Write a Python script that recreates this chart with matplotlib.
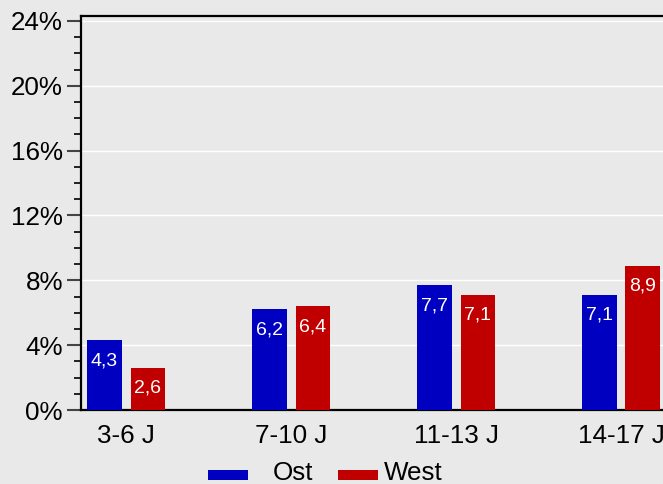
import matplotlib
matplotlib.use("Agg")
import matplotlib.pyplot as plt
from matplotlib.patches import Rectangle
from matplotlib.ticker import MultipleLocator, FuncFormatter
import numpy as np

categories = ["3-6 J", "7-10 J", "11-13 J", "14-17 J"]
ost = [4.3, 6.2, 7.7, 7.1]
west = [2.6, 6.4, 7.1, 8.9]
series_names = ["Ost", "West"]

plt.rcParams['font.family'] = ['Liberation Sans', 'DejaVu Sans']

W, H = 663, 484
fig = plt.figure(figsize=(W / 100, H / 100), dpi=100)
bg = "#e9e9e9"
fig.patch.set_facecolor(bg)

px = 165.0
left_px, right_px = 81, 81 + 3.546 * px
bottom_px, top_px = 410, 16
ax = fig.add_axes([left_px / W, 1 - bottom_px / H, (right_px - left_px) / W, (bottom_px - top_px) / H])
ax.set_facecolor(bg)

x = np.arange(len(categories))
bw = 0.212
off = 0.133
blue = "#0000c0"
red = "#c00000"
colors = [blue, red]
b1 = ax.bar(x - off, ost, bw, color=blue, zorder=3)
b2 = ax.bar(x + off, west, bw, color=red, zorder=3)

def fmt(v):
    return f"{v:.1f}".replace(".", ",")

for bars, vals in ((b1, ost), (b2, west)):
    for r, v in zip(bars, vals):
        ax.annotate(fmt(v), (r.get_x() + r.get_width() / 2, v), xytext=(0, -8.6),
                    textcoords="offset points", ha="center", va="top",
                    color="white", fontsize=14, zorder=4)

ax.set_xlim(-0.273, -0.273 + 3.546)
ax.set_ylim(0, 24.3)
ax.yaxis.set_major_locator(MultipleLocator(4))
ax.yaxis.set_minor_locator(MultipleLocator(1))
ax.yaxis.set_major_formatter(FuncFormatter(lambda v, p: f"{int(round(v))}%"))
ax.grid(axis="y", which="major", color="white", linewidth=1, zorder=0)
ax.set_xticks(x)
ax.set_xticklabels(categories)
ax.tick_params(axis="x", length=0, pad=10, labelsize=18.7)
ax.tick_params(axis="y", which="major", length=10, width=1.5, color="#444444", pad=3, labelsize=18.7)
ax.tick_params(axis="y", which="minor", length=5, width=1.2, color="black")

for s in ("left", "bottom", "top"):
    ax.spines[s].set_linewidth(1.6)
    ax.spines[s].set_color("black")
ax.spines["right"].set_visible(False)

# legend drawn manually to match spacing
patch_x = [208, 338]
text_x = [273, 384]
for px0, tx, name, c in zip(patch_x, text_x, series_names, colors):
    fig.add_artist(Rectangle((px0 / W, 1 - 479.5 / H), 40 / W, 9.5 / H,
                             transform=fig.transFigure, facecolor=c, edgecolor="none"))
    fig.text(tx / W, 1 - 480 / H, name, ha="left", va="baseline", fontsize=18.7)

fig.savefig("out.png", dpi=100, facecolor=bg)
